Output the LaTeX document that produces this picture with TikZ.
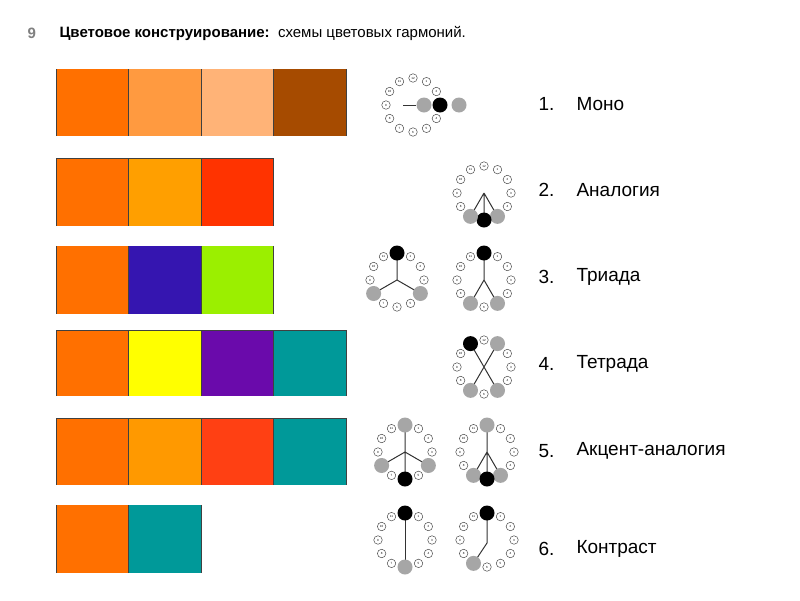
\documentclass[tikz,border=0pt]{standalone}
\usepackage{fontspec}
\setmainfont{Liberation Sans}
\begin{document}
\begin{tikzpicture}[x=1pt,y=-1pt,
  cell/.style={draw=black!75,line width=0.8pt},
  sm/.style={circle,draw=black!70,fill=white,line width=0.5pt,minimum size=8.5pt,inner sep=0pt,font=\fontsize{3}{3}\selectfont},
  gr/.style={circle,fill=black!35,minimum size=15pt,inner sep=0pt},
  bk/.style={circle,fill=black,minimum size=15pt,inner sep=0pt},
  ln/.style={line width=1pt,black!80},
  lbl/.style={anchor=west,font=\fontsize{19}{22}\selectfont}]
\useasboundingbox (0,0) rectangle (800,600);
\fill[white] (0,0) rectangle (800,600);
\node[anchor=west,font=\bfseries\fontsize{15}{18}\selectfont,text=black!50] (n9) at (24,33) {9};
\node[anchor=west,font=\fontsize{15}{18}\selectfont] (title) at (56,33) {\textbf{Цветовое конструирование:}\ \ схемы цветовых гармоний.};
% bars
\def\bar#1#2#3{\foreach \c [count=\i from 0] in {#3} {\fill[\c] ({56+72.5*\i},#1) rectangle ++(72.5,#2);}}
\definecolor{o1}{HTML}{FF7000}\definecolor{o2}{HTML}{FF9A40}\definecolor{o3}{HTML}{FFB377}\definecolor{br}{HTML}{A64B00}
\definecolor{am}{HTML}{FF9F00}\definecolor{rd}{HTML}{FF3300}\definecolor{bl}{HTML}{3515B0}\definecolor{lg}{HTML}{9BEF00}
\definecolor{ye}{HTML}{FFFF00}\definecolor{vi}{HTML}{6A0AAB}\definecolor{te}{HTML}{009999}\definecolor{r2}{HTML}{FF4013}\definecolor{a2}{HTML}{FF9900}
\bar{69}{67}{o1,o2,o3,br}
\bar{158}{68}{o1,am,rd}
\bar{246}{68}{o1,bl,lg}
\bar{330}{66}{o1,ye,vi,te}
\bar{418}{67}{o1,a2,r2,te}
\bar{505}{68}{o1,te}
\foreach \y/\h/\n in {69/67/4,158/68/3,246/68/3,330/66/4,418/67/4,505/68/2}{
  \foreach \k in {0,...,\n}{\draw[cell] ({56+72.5*\k},\y) -- ++(0,\h);}
}
\draw[cell] (56,158) -- (273.5,158); \draw[cell] (56,418) -- (346,418); \draw[cell] (56,330) -- (346,330);
% wheel macro: #1 name, #2 cx, #3 cy, #4 excluded hours
\newcommand\wheelring[4]{%
  \coordinate (#1c) at (#2,#3);
  \foreach \hh in {1,...,12}{\coordinate (#1h\hh) at ($(#2,#3)+({27*cos(90-30*\hh)},{-27*sin(90-30*\hh)})$);}
  \foreach \hh in {1,...,12}{%
    \edef\skip{0}\foreach \e in {#4}{\ifnum\e=\hh\gdef\skip{1}\fi}%
    \ifnum\skip=0 \node[sm] (#1s\hh) at (#1h\hh) {\hh};\fi}%
}
\usetikzlibrary{calc}
% 1 mono
\wheelring{a}{413}{105}{3}
\node[gr] (a1) at (424,105) {}; \draw[ln] (403,105) -- (a1);
\node[bk] (a2) at (ah3) {}; \node[gr] (a3) at (459,105) {};
% 2 analogy
\wheelring{b}{484}{193}{5,6,7}
\draw[ln] (bc) -- (bh5) (bc) -- (bh6) (bc) -- (bh7);
\node[gr] at (bh5) {}; \node[bk] at (bh6) {}; \node[gr] at (bh7) {};
% 3 triad
\wheelring{c}{397}{280}{12,4,8}
\draw[ln] (cc) -- (ch12) (cc) -- (ch4) (cc) -- (ch8);
\node[bk] at (ch12) {}; \node[gr] at (ch4) {}; \node[gr] at (ch8) {};
\wheelring{d}{484}{280}{12,5,7}
\draw[ln] (dc) -- (dh12) (dc) -- (dh5) (dc) -- (dh7);
\node[bk] at (dh12) {}; \node[gr] at (dh5) {}; \node[gr] at (dh7) {};
% 4 tetrad
\wheelring{e}{484}{367}{11,1,5,7}
\draw[ln] (eh11) -- (eh5) (eh1) -- (eh7);
\node[bk] at (eh11) {}; \node[gr] at (eh1) {}; \node[gr] at (eh5) {}; \node[gr] at (eh7) {};
% 5 accent
\wheelring{f}{405}{452}{12,4,6,8}
\draw[ln] (fh12) -- (fh6) (fc) -- (fh4) (fc) -- (fh8);
\node[gr] at (fh12) {}; \node[gr] at (fh4) {}; \node[gr] at (fh8) {}; \node[bk] at (fh6) {};
\wheelring{g}{487}{452}{12,5,6,7}
\draw[ln] (gh12) -- (gh6) (gc) -- (gh5) (gc) -- (gh7);
\node[gr] at (gh12) {}; \node[gr] at (gh5) {}; \node[gr] at (gh7) {}; \node[bk] at (gh6) {};
% 6 contrast
\wheelring{h}{405}{540}{12,6}
\draw[ln] (hh12) -- (hh6);
\node[bk] at (hh12) {}; \node[gr] at (hh6) {};
\wheelring{k}{487}{540}{12,7}
\coordinate (kb) at ($(kh12)+(0,30)$);
\draw[ln] (kh12) -- (kb) -- (kh7);
\node[bk] at (kh12) {}; \node[gr] at (kh7) {};
% labels
\foreach \t/\y/\s in {1./104/Моно,2./190/Аналогия,3./277/Триада,4./364/Тетрада,5./451/Акцент-аналогия,6./549/Контраст}{
  \node[lbl] at (535,\y) {\t}; \node[lbl] at (573,\y) {\s};
}
\end{tikzpicture}
\end{document}
